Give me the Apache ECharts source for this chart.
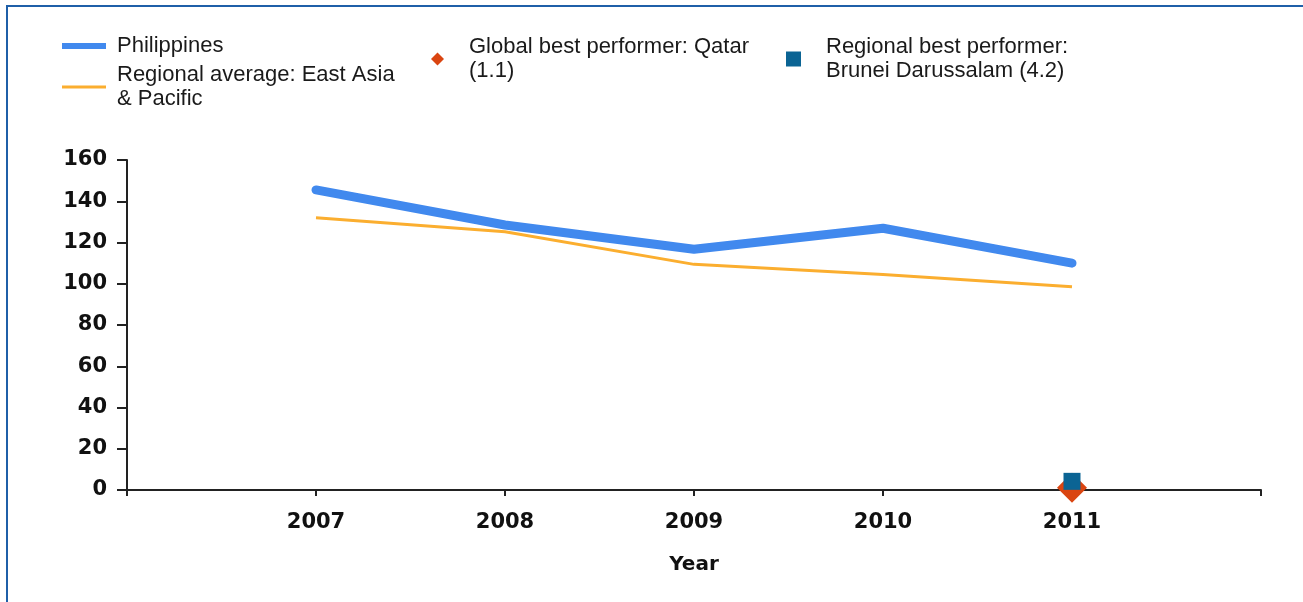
<!DOCTYPE html>
<html>
<head>
<meta charset="utf-8">
<script src="https://cdn.jsdelivr.net/npm/echarts@6/dist/echarts.min.js"></script>
<style>
  html, body { margin: 0; padding: 0; background: #fff; }
  #frame { position: absolute; left: 6px; top: 5px; width: 1297px; height: 597px; border-left: 2px solid #1f5fa8; border-top: 2px solid #1f5fa8; box-sizing: border-box; }
  #chart { position: absolute; left: 0; top: 0; width: 1303px; height: 602px; }
</style>
</head>
<body>
<div id="frame"></div>
<div id="chart"></div>
<script>
const years = [2007, 2008, 2009, 2010, 2011];
const philippines = [145.5, 128.5, 116.7, 126.9, 110.0];
const regionalAvg = [132.0, 125.2, 109.4, 104.5, 98.6];
const globalBestYear = [2011];
const globalBest = [1.1];
const regionalBestYear = [2011];
const regionalBest = [4.2];
const yTicks = [0, 20, 40, 60, 80, 100, 120, 140, 160];

const nameP = 'Philippines';
const nameR = 'Regional average: East Asia & Pacific';
const nameG = 'Global best performer: Qatar (1.1)';
const nameB = 'Regional best performer: Brunei Darussalam (4.2)';
const legendLabels = {};
legendLabels[nameP] = 'Philippines';
legendLabels[nameR] = 'Regional average: East Asia\n& Pacific';
legendLabels[nameG] = 'Global best performer: Qatar\n(1.1)';
legendLabels[nameB] = 'Regional best performer:\nBrunei Darussalam (4.2)';

const pair = (xs, ys) => xs.map((x, i) => [x, ys[i]]);

const legendText = (padLeft) => ({
  fontFamily: 'Liberation Sans', fontSize: 22, lineHeight: 24, color: '#1a1a1a',
  padding: [0, 0, 0, padLeft]
});
const fmt = n => legendLabels[n];

const chart = echarts.init(document.getElementById('chart'), null, { renderer: 'canvas' });
chart.setOption({
  animation: false,
  backgroundColor: 'transparent',
  legend: [
    { data: [nameP], left: 62, top: 34, padding: 0, icon: 'rect', itemWidth: 44, itemHeight: 6,
      textStyle: legendText(6), formatter: fmt, selectedMode: false },
    { data: [nameR], left: 62, top: 63, padding: 0, icon: 'rect', itemWidth: 44, itemHeight: 3,
      textStyle: legendText(6), formatter: fmt, selectedMode: false },
    { data: [nameG], left: 431, top: 35, padding: 0, icon: 'diamond', itemWidth: 13, itemHeight: 13,
      itemStyle: { opacity: 1 }, textStyle: legendText(20), formatter: fmt, selectedMode: false },
    { data: [nameB], left: 786, top: 35, padding: 0, icon: 'rect', itemWidth: 15, itemHeight: 15,
      itemStyle: { opacity: 1 }, textStyle: legendText(20), formatter: fmt, selectedMode: false }
  ],
  grid: { left: 127, right: 42, top: 160, bottom: 112, containLabel: false },
  xAxis: {
    type: 'value', min: 2006, max: 2012, interval: 1,
    name: 'Year', nameLocation: 'middle', nameGap: 65,
    nameTextStyle: { fontFamily: 'DejaVu Sans', fontWeight: 'bold', fontSize: 20, color: '#111' },
    axisLine: { show: true, lineStyle: { color: '#222', width: 2 } },
    axisTick: { show: true, length: 6, lineStyle: { color: '#222', width: 2 } },
    axisLabel: {
      margin: 22, fontFamily: 'DejaVu Sans', fontWeight: 'bold', fontSize: 21, color: '#111',
      formatter: v => (years.indexOf(v) >= 0 ? String(v) : '')
    },
    splitLine: { show: false }
  },
  yAxis: {
    type: 'value', min: yTicks[0], max: yTicks[yTicks.length - 1], interval: 20,
    axisLine: { show: true, lineStyle: { color: '#222', width: 2 } },
    axisTick: { show: true, length: 10, lineStyle: { color: '#222', width: 2 } },
    axisLabel: { margin: 20, fontFamily: 'DejaVu Sans', fontWeight: 'bold', fontSize: 21, color: '#111' },
    splitLine: { show: false }
  },
  series: [
    { name: nameP, type: 'line', data: pair(years, philippines), showSymbol: false, symbol: 'none',
      color: '#4189ee', lineStyle: { width: 9, color: '#4189ee', cap: 'round', join: 'round' }, z: 3 },
    { name: nameR, type: 'line', data: pair(years, regionalAvg), showSymbol: false, symbol: 'none',
      color: '#fbae2f', lineStyle: { width: 3, color: '#fbae2f' }, z: 2 },
    { name: nameG, type: 'scatter', data: pair(globalBestYear, globalBest), symbol: 'diamond', symbolSize: 30,
      itemStyle: { color: '#da4511', opacity: 1 }, z: 4 },
    { name: nameB, type: 'scatter', data: pair(regionalBestYear, regionalBest), symbol: 'rect', symbolSize: 17,
      itemStyle: { color: '#0b6494', opacity: 1 }, z: 5 }
  ]
});
</script>
</body>
</html>
